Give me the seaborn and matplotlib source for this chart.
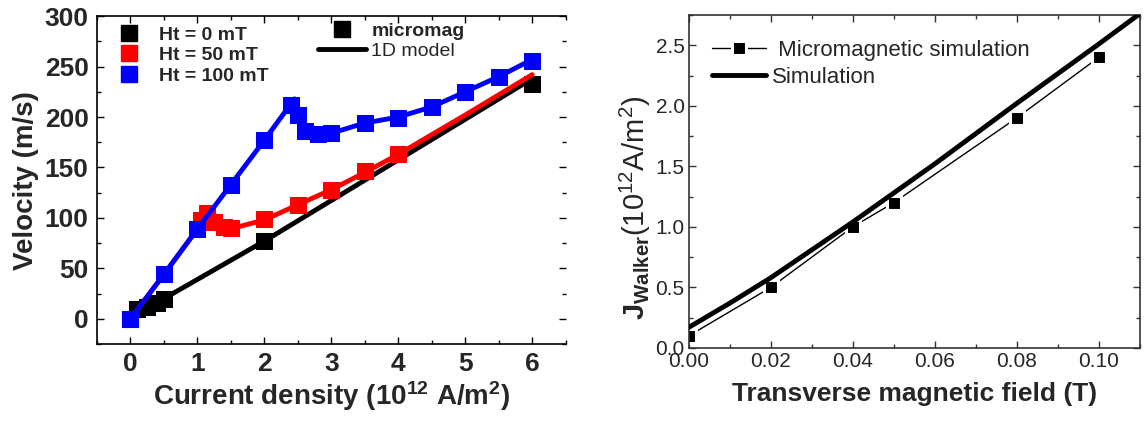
import seaborn as sns
import matplotlib.pyplot as plt
from matplotlib.lines import Line2D
from matplotlib.ticker import MultipleLocator

sns.set_style("ticks")
plt.rcParams['font.family'] = ['Liberation Sans', 'DejaVu Sans']
plt.rcParams['mathtext.fontset'] = 'custom'
plt.rcParams['mathtext.rm'] = 'Liberation Sans'
plt.rcParams['mathtext.bf'] = 'Liberation Sans:bold'
plt.rcParams['mathtext.it'] = 'Liberation Sans:italic'

# ---- left panel: velocity vs current density ----
# micromagnetic points
j0_pts = [0, 0.1, 0.25, 0.4, 0.5, 2, 6]
v0_pts = [0, 10, 12, 16, 20, 77, 233]
j50_pts = [0, 1.05, 1.15, 1.25, 1.4, 1.5, 2, 2.5, 3, 3.5, 4]
v50_pts = [0, 98, 105, 96, 91, 90, 99, 113, 128, 146, 163]
j100_pts = [0, 0.5, 1, 1.5, 2, 2.4, 2.5, 2.6, 2.8, 3.0, 3.5, 4, 4.5, 5, 5.5, 6]
v100_pts = [0, 44, 89, 133, 177, 212, 202, 186, 183, 184, 194, 199, 210, 225, 240, 256]
# 1D model curves
j0_mod = [0, 0.5, 2, 6]
v0_mod = [0, 20, 77, 238]
j50_mod = [0, 0.5, 1, 1.12, 1.25, 1.4, 1.6, 2, 2.5, 3, 3.5, 4, 5, 6]
v50_mod = [0, 44, 89, 104, 96, 91, 91, 98, 113, 128, 145, 163, 202, 242]
j100_mod = [0, 0.5, 1, 1.5, 2, 2.45, 2.55, 2.65, 2.8, 3, 3.5, 4, 4.5, 5, 5.5, 6]
v100_mod = [0, 44, 89, 133, 177, 218, 200, 188, 183, 184, 194, 200, 210, 225, 240, 257]
labels_left = ["Ht = 0 mT", "Ht = 50 mT", "Ht = 100 mT"]
colors_left = ["black", "red", "blue"]

# ---- right panel: Walker current vs transverse field ----
field_pts = [0, 0.02, 0.04, 0.05, 0.08, 0.10]
jw_pts = [0.1, 0.5, 1.0, 1.2, 1.9, 2.4]
field_sim = [0, 0.01, 0.02, 0.04, 0.06, 0.08, 0.10, 0.11]
jw_sim = [0.17, 0.37, 0.58, 1.04, 1.52, 2.02, 2.51, 2.76]

fig = plt.figure(figsize=(11.46, 4.22), dpi=100)
ax1 = fig.add_axes([0.0846, 0.1848, 0.409, 0.777])
ax2 = fig.add_axes([0.601, 0.1754, 0.3935, 0.789])

groups = [(j0_pts, v0_pts, j0_mod, v0_mod),
          (j50_pts, v50_pts, j50_mod, v50_mod),
          (j100_pts, v100_pts, j100_mod, v100_mod)]
for (jp, vp, jm, vm), c in zip(groups, colors_left):
    sns.lineplot(x=jp, y=vp, ax=ax1, marker="s", markersize=11.5, color=c,
                 markeredgecolor=c, linestyle="none", sort=False, estimator=None)
    sns.lineplot(x=jm, y=vm, ax=ax1, color=c, linewidth=3.5, sort=False,
                 estimator=None)

ax1.set_xlim(-0.5, 6.5)
ax1.set_ylim(-25, 300)
ax1.xaxis.set_major_locator(MultipleLocator(1))
ax1.xaxis.set_minor_locator(MultipleLocator(0.5))
ax1.yaxis.set_major_locator(MultipleLocator(50))
ax1.yaxis.set_minor_locator(MultipleLocator(25))
ax1.tick_params(which="both", direction="in", top=True, right=True, color="black")
ax1.tick_params(which="major", length=5, width=1)
ax1.tick_params(which="minor", length=3, width=1)
ax1.tick_params(labelsize=19, pad=6)
for t in ax1.get_xticklabels() + ax1.get_yticklabels():
    t.set_fontweight("bold")
for s in ax1.spines.values():
    s.set_color("black")
    s.set_linewidth(1.2)
ax1.spines["right"].set_visible(False)
ax1.set_xlabel(r"Current density (10$^{\mathbf{12}}$ A/m$^{\mathbf{2}}$)",
               fontsize=20, fontweight="bold", labelpad=2)
ax1.set_ylabel("Velocity (m/s)", fontsize=20, fontweight="bold", labelpad=4)

h1 = [Line2D([], [], marker="s", markersize=11.5, color=c, linestyle="none")
      for c in colors_left]
leg1 = ax1.legend(h1, labels_left, loc="upper left", bbox_to_anchor=(0.037, 0.97),
                  frameon=False, borderpad=0, borderaxespad=0, handlelength=1.5,
                  handletextpad=0.8, labelspacing=0.15,
                  prop={"size": 14, "weight": "bold"})
ax1.add_artist(leg1)
h2 = [Line2D([], [], marker="s", markersize=11.5, color="black", linestyle="none"),
      Line2D([], [], color="black", linewidth=3.5)]
leg2 = ax1.legend(h2, ["micromag", "1D model"], loc="upper left",
                  bbox_to_anchor=(0.471, 0.982), frameon=False, borderpad=0,
                  borderaxespad=0, handlelength=2.5, handletextpad=0.26,
                  labelspacing=0.15, prop={"size": 14})
leg2.get_texts()[0].set_fontweight("bold")

# right panel
sns.lineplot(x=field_pts, y=jw_pts, ax=ax2, color="black", linewidth=1.0,
             marker="s", markersize=10.5, markerfacecolor="black",
             markeredgecolor="white", markeredgewidth=2.2, sort=False,
             estimator=None, zorder=2)
sns.lineplot(x=field_sim, y=jw_sim, ax=ax2, color="black", linewidth=3.5,
             sort=False, estimator=None, zorder=3)
ax2.set_xlim(0, 0.11)
ax2.set_ylim(0, 2.75)
ax2.xaxis.set_major_locator(MultipleLocator(0.02))
ax2.xaxis.set_minor_locator(MultipleLocator(0.01))
ax2.yaxis.set_major_locator(MultipleLocator(0.5))
ax2.yaxis.set_minor_locator(MultipleLocator(0.25))
ax2.tick_params(which="both", direction="in", top=True, right=True, color="#333333")
ax2.tick_params(which="major", length=5, width=1)
ax2.tick_params(which="minor", length=3, width=1)
ax2.tick_params(labelsize=15, pad=3)
ax2.set_xticks([0, 0.02, 0.04, 0.06, 0.08, 0.10])
ax2.set_xticklabels(["0.00", "0.02", "0.04", "0.06", "0.08", "0.10"])
for s in ax2.spines.values():
    s.set_color("#333333")
    s.set_linewidth(1.2)
ax2.set_xlabel("Transverse magnetic field (T)", fontsize=19, fontweight="bold",
               labelpad=8)
ax2.set_ylabel(r"$\mathbf{J}_{\mathbf{Walker}}$(10$^{12}$A/m$^{2}$)", fontsize=21)
ax2.yaxis.set_label_coords(-0.08, 0.42)

h3 = [Line2D([], [], color="black", linewidth=1.0, marker="s", markersize=10.5,
             markerfacecolor="black", markeredgecolor="white", markeredgewidth=2.2),
      Line2D([], [], color="black", linewidth=3.5)]
ax2.legend(h3, [" Micromagnetic simulation", "Simulation"], loc="upper left",
           bbox_to_anchor=(0.051, 0.925), frameon=False, borderpad=0,
           borderaxespad=0, handlelength=2.43, handletextpad=0.27,
           labelspacing=0.25, prop={"size": 16})

fig.savefig("out.png", dpi=100)
